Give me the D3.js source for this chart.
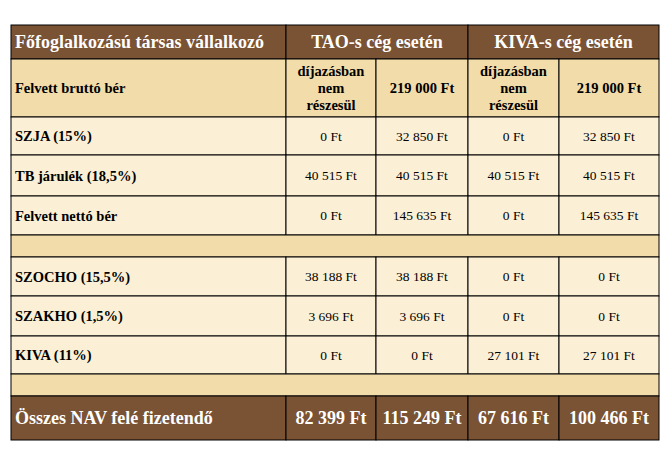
<!DOCTYPE html><html><head><meta charset="utf-8"><script src="https://d3js.org/d3.v7.min.js"></script>
<style>body{margin:0;background:#fff}</style></head><body><svg id="c" width="668" height="458"></svg>
<script>
const headers=["Főfoglalkozású társas vállalkozó","TAO-s cég esetén","KIVA-s cég esetén"];
const rowLabels=["Felvett bruttó bér","SZJA (15%)","TB járulék (18,5%)","Felvett nettó bér","","SZOCHO (15,5%)","SZAKHO (1,5%)","KIVA (11%)","","Összes NAV felé fizetendő"];
const taoNo=["díjazásban|nem|részesül","0 Ft","40 515 Ft","0 Ft","","38 188 Ft","3 696 Ft","0 Ft","","82 399 Ft"];
const tao219=["219 000 Ft","32 850 Ft","40 515 Ft","145 635 Ft","","38 188 Ft","3 696 Ft","0 Ft","","115 249 Ft"];
const kivaNo=["díjazásban|nem|részesül","0 Ft","40 515 Ft","0 Ft","","0 Ft","0 Ft","27 101 Ft","","67 616 Ft"];
const kiva219=["219 000 Ft","32 850 Ft","40 515 Ft","145 635 Ft","","0 Ft","0 Ft","27 101 Ft","","100 466 Ft"];
const colEdges=[11,286,376,468,559,659];
const rowEdges=[25,59,117,155,196,235,257,296,336,374,396,440];
const svg=d3.select("#c");
const cx=i=>colEdges[i], ry=i=>rowEdges[i];
const brown="#7a5234", dark="#f1dcaa", light="#fbf0d6";
const font="'Liberation Serif','DejaVu Serif',serif";
function cell(x0,x1,y0,y1,fill,txt,opt){
  svg.append("rect").attr("x",x0).attr("y",y0).attr("width",x1-x0).attr("height",y1-y0).attr("fill",fill).attr("stroke","#000").attr("stroke-width",1);
  if(!txt)return;
  const lines=txt.split("|");const lh=opt.size*1.2;
  const xx=opt.anchor==="start"?x0+4:(x0+x1)/2;
  const t=svg.append("text").attr("font-family",font).attr("font-weight",opt.weight||"bold").attr("font-size",opt.size).attr("fill",opt.color).attr("text-anchor",opt.anchor);
  lines.forEach((l,k)=>t.append("tspan").attr("x",xx).attr("y",(y0+y1)/2+(k-(lines.length-1)/2)*lh+opt.size*0.35).text(l));
}
cell(cx(0),cx(1),ry(0),ry(1),brown,headers[0],{size:18,color:"#fff",anchor:"start"});
cell(cx(1),cx(3),ry(0),ry(1),brown,headers[1],{size:18,color:"#fff",anchor:"middle"});
cell(cx(3),cx(5),ry(0),ry(1),brown,headers[2],{size:18,color:"#fff",anchor:"middle"});
const cols=[taoNo,tao219,kivaNo,kiva219];
rowLabels.forEach((lab,r)=>{
  const y0=ry(r+1),y1=ry(r+2);
  const last=r===rowLabels.length-1, blank=lab==="";
  const fill=last?brown:(r===0||blank?dark:light);
  const color=last?"#fff":"#000";
  if(blank){cell(cx(0),cx(5),y0,y1,fill,"",{});return;}
  cell(cx(0),cx(1),y0,y1,fill,lab,{size:last?18:14.5,color,anchor:"start"});
  cols.forEach((c,j)=>{
    cell(cx(j+1),cx(j+2),y0,y1,fill,c[r],{size:last?18:(r===0?14.5:13.5),color,anchor:"middle",weight:(r===0||last)?"bold":"normal"});
  });
});
</script></body></html>
